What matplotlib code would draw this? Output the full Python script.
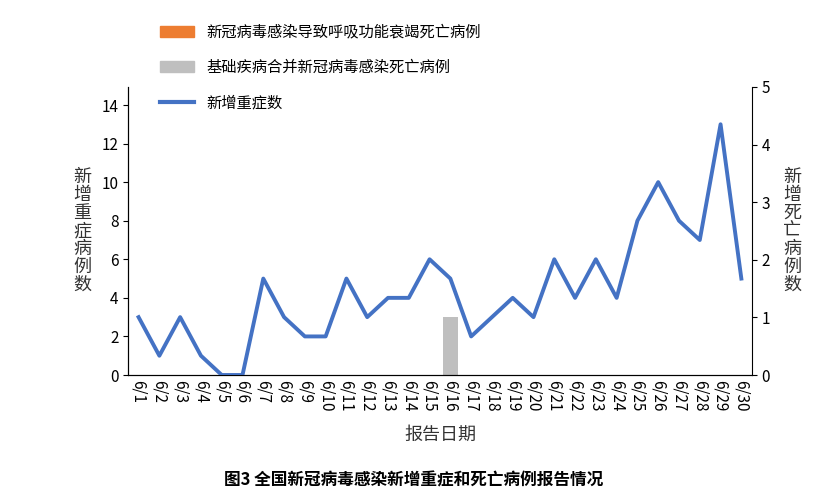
import matplotlib
matplotlib.use("Agg")
import matplotlib.pyplot as plt
from matplotlib.patches import Patch
from matplotlib.lines import Line2D

plt.rcParams['font.family'] = ['Noto Sans CJK SC', 'DejaVu Sans']

dates = [f"6/{i}" for i in range(1, 31)]
severe = [3,1,3,1,0,0,5,3,2,2,5,3,4,4,6,5,2,3,4,3,6,4,6,4,8,10,8,7,13,5]
death_resp = [0]*30
death_base = [0]*30
death_base[15] = 1

fig = plt.figure(figsize=(8.27, 5.0), dpi=100)
ax = fig.add_axes([0.155, 0.25, 0.754, 0.576])
ax2 = ax.twinx()
x = list(range(30))
ax2.bar(x, death_resp, width=0.6, color='#ED7D31')
ax2.bar(x, death_base, width=0.75, color='#BFBFBF')
ax.plot(x, severe, color='#4472C4', lw=2.8, zorder=5)
ax.set_zorder(ax2.get_zorder() + 1)
ax.patch.set_visible(False)

ax.set_xlim(-0.5, 29.5)
ax.set_ylim(0, 14 * 288 / 270)
ax.set_yticks(range(0, 15, 2))
ax2.set_ylim(0, 5)
ax2.set_yticks(range(0, 6))
ax.set_xticks(x)
ax.set_xticklabels(dates, rotation=270, fontsize=10)
for a in (ax, ax2):
    a.tick_params(labelsize=11, direction='out')
    a.spines['top'].set_visible(False)
ax.spines['right'].set_visible(False)
ax.tick_params(axis='x', length=0)

ax.set_ylabel("新\n增\n重\n症\n病\n例\n数", rotation=0, fontsize=13, color='#333333',
              labelpad=14, va='center', linespacing=1.0)
ax2.set_ylabel("新\n增\n死\n亡\n病\n例\n数", rotation=0, fontsize=13, color='#333333',
               labelpad=16, va='center', linespacing=1.0)
ax.set_xlabel("报告日期", fontsize=13, color='#333333', labelpad=10)

handles = [Patch(color='#ED7D31'), Patch(color='#BFBFBF'), Line2D([], [], color='#4472C4', lw=3)]
labels = ["新冠病毒感染导致呼吸功能衰竭死亡病例", "基础疾病合并新冠病毒感染死亡病例", "新增重症数"]
fig.legend(handles, labels, loc='upper left', bbox_to_anchor=(0.177, 0.98), frameon=False,
           fontsize=11, labelspacing=1.2, handlelength=2.2)

fig.text(0.5, 0.03, "图3 全国新冠病毒感染新增重症和死亡病例报告情况", ha='center',
         fontsize=12, fontweight='bold')
fig.savefig("out.png", dpi=100)
